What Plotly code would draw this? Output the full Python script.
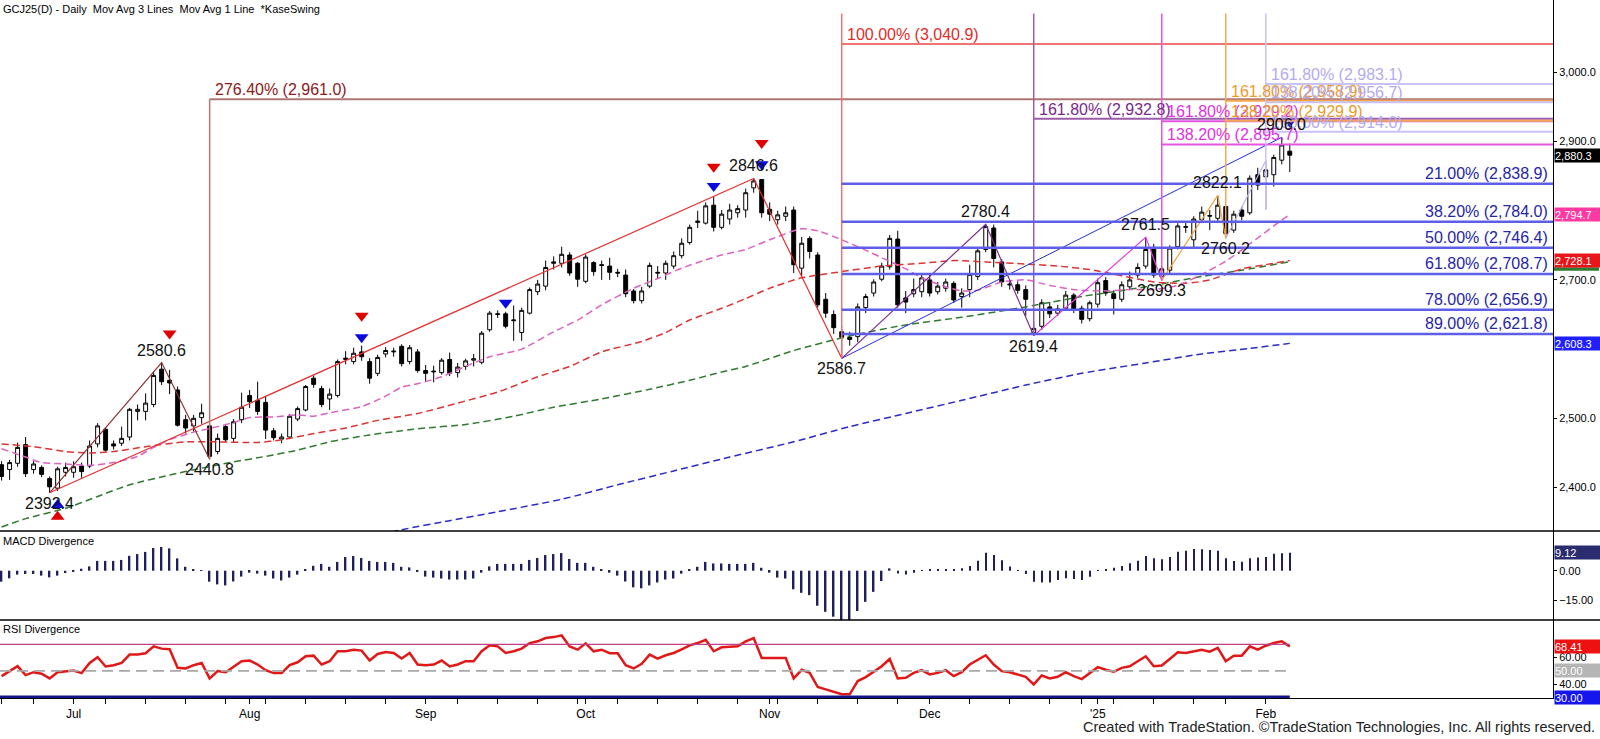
import pandas as pd
import plotly.graph_objects as go

# Sesiones diarias GCJ25 (sin feriados de CME)
holidays = ['2024-06-19', '2024-07-04', '2024-09-02', '2024-11-28',
            '2024-12-25', '2025-01-01', '2025-01-20']
dates = [d for d in pd.bdate_range('2024-06-17', '2025-02-06')
         if d.strftime('%Y-%m-%d') not in holidays]

opens = [2433, 2426, 2435, 2462, 2426, 2429, 2413, 2399, 2422, 2422,
         2431, 2431, 2463, 2484, 2463, 2464, 2473, 2510, 2510, 2520,
         2571, 2555, 2541, 2498, 2489, 2501, 2489, 2452, 2488, 2471,
         2498, 2533, 2526, 2523, 2482, 2470, 2473, 2499, 2512, 2558,
         2543, 2528, 2533, 2585, 2582, 2596, 2582, 2565, 2593, 2596,
         2604, 2582, 2596, 2569, 2567, 2566, 2585, 2566, 2575, 2584,
         2581, 2628, 2650, 2651, 2641, 2624, 2652, 2683, 2691, 2724,
         2724, 2736, 2724, 2698, 2725, 2722, 2720, 2711, 2707, 2684,
         2670, 2691, 2711, 2710, 2720, 2735, 2754, 2783, 2782, 2808,
         2776, 2788, 2797, 2801, 2833, 2845, 2802, 2787, 2792, 2801,
         2717, 2760, 2736, 2672, 2650, 2625, 2617, 2618, 2660, 2681,
         2701, 2719, 2759, 2674, 2680, 2683, 2700, 2683, 2688, 2695,
         2676, 2686, 2705, 2744, 2775, 2726, 2694, 2693, 2686, 2624,
         2633, 2661, 2652, 2659, 2678, 2659, 2644, 2665, 2699, 2680,
         2672, 2690, 2707, 2720, 2747, 2705, 2714, 2748, 2776, 2758,
         2787, 2792, 2789, 2806, 2772, 2801, 2797, 2852, 2849, 2852,
         2873, 2886]
highs = [2438, 2440, 2465, 2473, 2438, 2432, 2416, 2430, 2436, 2438,
         2436, 2468, 2493, 2487, 2468, 2488, 2515, 2520, 2536, 2568,
         2580.6, 2570, 2546, 2505, 2505, 2521, 2492, 2478, 2492, 2499,
         2537, 2541, 2553, 2531, 2486, 2478, 2506, 2517, 2548, 2562,
         2547, 2543, 2585, 2597, 2602, 2605, 2587, 2592, 2603, 2602,
         2607, 2606, 2600, 2577, 2576, 2587, 2595, 2580, 2586, 2593,
         2626, 2655, 2656, 2654, 2663, 2660, 2689, 2700, 2728, 2734,
         2748, 2740, 2726, 2737, 2727, 2728, 2732, 2716, 2715, 2687,
         2690, 2725, 2720, 2728, 2741, 2760, 2780, 2800, 2812, 2821,
         2801, 2810, 2808, 2832, 2846.6, 2845.5, 2812, 2800, 2806, 2806,
         2762, 2763, 2740, 2681, 2656, 2633, 2625, 2666, 2680, 2701,
         2725, 2765, 2771, 2684, 2702, 2710, 2710, 2697, 2702, 2698,
         2688, 2722, 2746, 2780.4, 2780, 2730, 2700, 2698, 2692, 2640,
         2672, 2668, 2664, 2684, 2681, 2663, 2670, 2702, 2704, 2685,
         2698, 2712, 2724, 2761.5, 2752, 2720, 2750, 2782, 2785, 2792,
         2806, 2801, 2822.1, 2808, 2800, 2806, 2851, 2862, 2872.1, 2881,
         2906.0, 2897]
lows = [2410, 2411, 2430, 2415, 2420, 2415, 2392.4, 2395, 2416, 2414,
        2414, 2428, 2458, 2452, 2455, 2460, 2468, 2497, 2497, 2516,
        2548, 2535, 2488, 2478, 2481, 2492, 2440.8, 2448, 2466, 2466,
        2493, 2515, 2505, 2470, 2468, 2464, 2470, 2496, 2510, 2544,
        2516, 2512, 2530, 2578, 2578, 2583, 2550, 2561, 2588, 2589,
        2575, 2578, 2566, 2553, 2552, 2563, 2561, 2559, 2570, 2575,
        2578, 2625, 2645, 2630, 2612, 2612, 2650, 2678, 2685, 2715,
        2718, 2706, 2690, 2695, 2706, 2700, 2700, 2704, 2675, 2666,
        2666, 2688, 2702, 2700, 2716, 2731, 2751, 2775, 2780, 2770,
        2773, 2780, 2790, 2790, 2826, 2790, 2785, 2780, 2785, 2710,
        2705, 2731, 2660, 2645, 2622, 2586.7, 2605, 2610, 2652, 2676,
        2698, 2715, 2660, 2652, 2675, 2675, 2676, 2679, 2683, 2667,
        2660, 2675, 2700, 2740, 2718, 2690, 2686, 2680, 2648, 2619.4,
        2628, 2645, 2648, 2655, 2652, 2637, 2640, 2660, 2677, 2650,
        2668, 2686, 2703, 2716, 2703, 2699.3, 2710, 2744, 2768, 2746,
        2782, 2772, 2785, 2760.2, 2768, 2786, 2794, 2830, 2802.1, 2835,
        2867, 2856]
closes = [2416, 2436, 2458, 2420, 2434, 2419, 2401, 2427, 2429, 2430,
          2423, 2460, 2489, 2454, 2460, 2471, 2513, 2513, 2522, 2562,
          2553, 2551, 2490, 2486, 2500, 2508, 2445, 2471, 2469, 2495,
          2516, 2524, 2510, 2483, 2472, 2473, 2503, 2514, 2546, 2549,
          2520, 2535, 2582, 2587, 2594, 2589, 2558, 2588, 2598, 2597,
          2579, 2602, 2569, 2565, 2568, 2584, 2565, 2574, 2583, 2586,
          2623, 2652, 2651, 2633, 2642, 2656, 2686, 2694, 2718, 2726,
          2737, 2710, 2701, 2733, 2712, 2721, 2711, 2710, 2680, 2670,
          2684, 2721, 2710, 2724, 2735, 2753, 2776, 2785, 2807, 2776,
          2795, 2801, 2803, 2826, 2843, 2797, 2795, 2794, 2797, 2722,
          2753, 2741, 2664, 2652, 2631, 2617, 2614, 2661, 2676, 2697,
          2720, 2760, 2664, 2668, 2686, 2703, 2681, 2691, 2697, 2671,
          2681, 2708, 2742, 2777, 2731, 2697, 2693, 2685, 2672, 2630,
          2667, 2651, 2658, 2678, 2657, 2643, 2667, 2696, 2681, 2673,
          2693, 2700, 2718, 2744, 2707, 2716, 2746, 2778, 2777, 2788,
          2798, 2793, 2808, 2767, 2795, 2792, 2847, 2837, 2859, 2877,
          2895, 2880.3]

ma18_idx = [0, 3, 5, 8, 11, 14, 17, 19, 21, 24, 27, 29, 31, 34, 37, 39, 41, 45, 48, 50,
            52, 55, 58, 61, 65, 69, 72, 75, 79, 82, 85, 88, 90, 93, 96, 100, 102, 105, 108, 110,
            113, 115, 118, 120, 122, 125, 128, 131, 134, 138, 141, 144, 147, 150, 153, 156, 159, 161]
ma18_val = [2456, 2444, 2436, 2434, 2432, 2436, 2445, 2458, 2469, 2480, 2488, 2494, 2501, 2502, 2505, 2503, 2508, 2517, 2532, 2545,
            2550, 2560, 2575, 2589, 2600, 2625, 2642, 2664, 2688, 2702, 2717, 2729, 2736, 2744, 2758, 2774, 2771, 2758, 2743, 2732,
            2716, 2703, 2690, 2684, 2685, 2697, 2700, 2692, 2686, 2684, 2686, 2686, 2692, 2708, 2727, 2752, 2778, 2794.7]
ma40_idx = [0, 4, 8, 11, 14, 18, 23, 27, 32, 35, 39, 43, 47, 52, 57, 62, 67, 71, 75, 80,
            83, 86, 90, 93, 96, 100, 105, 110, 115, 119, 123, 128, 132, 136, 140, 144, 148, 151, 155, 158, 161]
ma40_val = [2463, 2459, 2452, 2450, 2452, 2459, 2466, 2466, 2465, 2469, 2478, 2486, 2497, 2507, 2522, 2538, 2560, 2575, 2596, 2611,
            2624, 2642, 2659, 2673, 2688, 2703, 2712, 2720, 2724, 2728, 2726, 2723, 2720, 2715, 2706, 2697, 2695, 2700, 2716, 2722, 2728.1]
ma100_idx = [0, 3, 8, 12, 16, 21, 25, 29, 33, 37, 41, 46, 50, 53, 58, 64, 69, 75, 81, 86,
             90, 93, 99, 106, 113, 120, 128, 135, 143, 150, 155, 161]
ma100_val = [2343, 2355, 2370, 2387, 2404, 2418, 2428, 2437, 2445, 2454, 2466, 2476, 2482, 2486, 2491, 2503, 2516, 2528, 2542, 2555,
             2567, 2575, 2598, 2619, 2635, 2646, 2661, 2676, 2690, 2705, 2714, 2726.3]
ma200_idx = [46, 50, 56, 62, 70, 77, 84, 91, 99, 106, 113, 120, 128, 135, 143, 150, 156, 161]
ma200_val = [2328, 2339, 2352, 2365, 2383, 2404, 2424, 2444, 2466, 2488, 2507, 2526, 2548, 2565, 2580, 2593, 2601, 2608.3]

macd = [-5.6, -3.9, -2.0, -1.7, -1.7, -2.5, -3.4, -2.5, -1.2, -0.5,
        1.0, 2.2, 5.0, 5.0, 5.0, 5.5, 7.6, 8.5, 9.6, 11.6,
        12.1, 11.4, 6.3, 2.0, 0.5, 0.3, -5.6, -7.0, -7.5, -5.5,
        -3.0, -1.0, -1.5, -2.5, -4.0, -5.0, -3.5, -2.0, 0.8, 2.5,
        3.5, 2.0, 4.5, 7.0, 7.5, 6.5, 5.0, 4.5, 4.5, 4.0,
        2.0, 1.7, -0.5, -3.0, -3.5, -4.0, -4.5, -4.5, -4.5, -4.0,
        -1.0, 2.2, 3.5, 3.5, 3.5, 3.5, 5.5, 6.5, 8.0, 8.5,
        9.0, 6.0, 4.0, 4.0, 2.0, 0.5, -1.0, -2.5, -5.5, -8.5,
        -9.0, -7.5, -6.0, -4.5, -4.0, -1.5, 0.7, 2.0, 4.5, 3.7,
        3.7, 3.5, 3.5, 3.5, 4.0, 1.5, -1.0, -3.5, -4.0, -9.5,
        -11.3, -12.5, -17.9, -21.0, -23.5, -25.5, -25.5, -20.6, -15.9, -10.8,
        -5.3, 1.2, -1.4, -1.9, -1.0, 0.3, 0.7, 0.7, 0.9, 0.9,
        1.2, 2.4, 5.1, 9.2, 8.0, 5.3, 2.2, 0.3, -1.7, -5.6,
        -6.0, -6.0, -4.8, -3.9, -4.3, -4.8, -3.1, 0.3, 0.7, 1.5,
        2.4, 3.8, 5.1, 7.5, 6.3, 5.8, 7.0, 9.7, 10.2, 11.1,
        10.9, 10.6, 10.2, 6.3, 4.9, 4.6, 6.3, 6.7, 7.0, 8.7,
        8.9, 9.12]
rsi = [46.0, 49.8, 53.5, 46.8, 49.0, 47.8, 44.3, 49.0, 49.8, 50.3,
       48.3, 56.0, 60.3, 53.3, 54.3, 56.0, 62.3, 62.3, 63.3, 68.5,
       66.8, 66.3, 52.3, 51.8, 54.3, 56.0, 44.3, 49.8, 49.0, 53.5,
       57.3, 57.8, 54.8, 50.5, 48.3, 48.3, 54.3, 56.5, 61.0, 61.5,
       54.8, 57.3, 64.8, 64.8, 66.0, 65.3, 57.8, 62.8, 64.3, 63.5,
       59.3, 63.5, 54.8, 54.3, 54.8, 57.8, 53.3, 54.8, 57.3, 57.3,
       64.8, 69.3, 68.5, 63.5, 64.8, 66.8, 71.0, 72.3, 74.8, 75.5,
       76.8, 68.5, 66.0, 70.8, 64.8, 66.0, 63.3, 63.3, 54.3, 51.8,
       55.3, 62.3, 59.3, 61.8, 63.5, 66.3, 69.3, 71.0, 73.5, 64.8,
       67.8, 68.3, 68.5, 72.3, 74.8, 59.8, 59.8, 59.3, 59.8, 44.3,
       50.8, 48.5, 37.8, 36.0, 34.0, 32.3, 32.3, 42.3, 45.3, 49.3,
       53.5, 59.0, 44.3, 44.8, 48.5, 50.5, 47.3, 48.5, 50.5, 46.0,
       49.0, 54.8, 58.5, 61.8, 54.8, 49.8, 49.0, 47.3, 45.5, 39.8,
       46.5, 44.3, 45.5, 49.0, 46.0, 43.8, 48.0, 52.8, 50.8, 49.3,
       52.3, 53.5, 57.3, 61.0, 53.5, 54.0, 59.0, 64.0, 63.5, 64.8,
       66.0, 64.5, 67.3, 57.3, 61.5, 61.5, 68.5, 66.0, 69.0, 71.0,
       72.3, 68.41]

# Pivotes swing (indice de barra, precio, tipo)
piv_idx = [6, 20, 26, 94, 105, 123, 129, 143, 145, 152, 153, 160]
piv_val = [2392.4, 2580.6, 2440.8, 2846.6, 2586.7, 2780.4, 2619.4, 2761.5, 2699.3, 2822.1, 2760.2, 2906.0]
piv_hi = [False, True, False, True, False, True, False, True, False, True, False, True]

# Extensiones de Fibonacci: puntos A-B-C y niveles
ext_sets = [
    dict(name='brown', x=[6, 20, 26], y=[2392.4, 2580.6, 2440.8], pct=[276.40], lvl=[2961.0]),
    dict(name='red', x=[6, 94, 105], y=[2392.4, 2846.6, 2586.7], pct=[100.00], lvl=[3040.9]),
    dict(name='purple', x=[105, 123, 129], y=[2586.7, 2780.4, 2619.4], pct=[161.80], lvl=[2932.8]),
    dict(name='magenta', x=[129, 143, 145], y=[2619.4, 2761.5, 2699.3], pct=[161.80, 138.20], lvl=[2929.2, 2895.7]),
    dict(name='orange', x=[145, 152, 153], y=[2699.3, 2822.1, 2760.2], pct=[161.80, 138.20], lvl=[2958.9, 2929.9]),
    dict(name='lavender', x=[153, 158, 158], y=[2760.2, 2872.1, 2802.1], pct=[161.80, 138.20, 100.00], lvl=[2983.1, 2956.7, 2914.0]),
]
# Retrocesos del tramo 2586.7 -> 2906.0
ret_x = [105, 160]
ret_y = [2586.7, 2906.0]
ret_pct = [21.00, 38.20, 50.00, 61.80, 78.00, 89.00]
ret_lvl = [2838.9, 2784.0, 2746.4, 2708.7, 2656.9, 2621.8]

# Marcadores KaseSwing
red_dn_idx = [21, 45, 89, 95]
red_dn_val = [2622.6, 2648.3, 2863.6, 2898.0]
blue_dn_idx = [45, 63, 89, 95, 161]
blue_dn_val = [2617.1, 2667.0, 2835.7, 2867.0, 2928.6]
blue_up_idx = [7]
blue_up_val = [2374.7]
red_up_idx = [7]
red_up_val = [2357.8]

x = list(range(len(dates)))
x_lo, x_hi = -0.2, 193.9
ext_top = 3085

col = dict(brown=('#8b3434', '#b07676', '#8b2020'),
           red=('#e42f2f', '#f07474', '#e22a2a'),
           purple=('#7e2f90', '#9d5cab', '#7a2a8c'),
           magenta=('#e040e0', '#e455e4', '#e030e0'),
           orange=('#f0a040', '#f2a850', '#ee9a2a'),
           lavender=('#bcb4f0', '#cac2f4', '#b4aaf0'))
font = 'Liberation Sans, Arial, sans-serif'

fig = go.Figure()

# medias moviles
for ix, vals, c in [(ma200_idx, ma200_val, '#2a2ac8'), (ma100_idx, ma100_val, '#2f7a2f'),
                    (ma40_idx, ma40_val, '#dd3333'), (ma18_idx, ma18_val, '#e060c0')]:
    fig.add_trace(go.Scatter(x=ix, y=vals, mode='lines', showlegend=False, hoverinfo='skip',
                             line=dict(color=c, width=1.5, dash='7px,4px', shape='spline', smoothing=0.6)))

fig.add_trace(go.Candlestick(
    x=x, open=opens, high=highs, low=lows, close=closes, showlegend=False, whiskerwidth=0,
    increasing=dict(line=dict(color='black', width=1), fillcolor='white'),
    decreasing=dict(line=dict(color='black', width=1), fillcolor='black')))

shapes = []
annotations = []

# lineas de extension
for s in ext_sets:
    c_swing, c_lvl, c_txt = col[s['name']]
    fig.add_trace(go.Scatter(x=s['x'], y=s['y'], mode='lines', showlegend=False, hoverinfo='skip',
                             line=dict(color=c_swing, width=1.2)))
    top = max(s['lvl']) if s['name'] == 'brown' else ext_top
    shapes.append(dict(type='line', xref='x', yref='y', x0=s['x'][2], x1=s['x'][2],
                       y0=s['y'][2], y1=top, line=dict(color=c_lvl, width=1.5)))
    for p, v in zip(s['pct'], s['lvl']):
        shapes.append(dict(type='line', xref='x', yref='y', x0=s['x'][2], x1=x_hi,
                           y0=v, y1=v, line=dict(color=c_lvl, width=2)))
        annotations.append(dict(x=s['x'][2], y=v, xref='x', yref='y', xanchor='left', yanchor='bottom',
                                xshift=3, yshift=-1, showarrow=False, text=f'{p:.2f}% ({v:,.1f})',
                                font=dict(family=font, size=16, color=c_txt)))

# retrocesos
fig.add_trace(go.Scatter(x=ret_x, y=ret_y, mode='lines', showlegend=False, hoverinfo='skip',
                         line=dict(color='#2a2ae0', width=1)))
for p, v in zip(ret_pct, ret_lvl):
    shapes.append(dict(type='line', xref='x', yref='y', x0=ret_x[0], x1=x_hi, y0=v, y1=v,
                       line=dict(color='#5e5ee8', width=2.5)))
    annotations.append(dict(x=x_hi, y=v, xref='x', yref='y', xanchor='right', yanchor='bottom',
                            xshift=-3, yshift=0, showarrow=False, text=f'{p:.2f}% ({v:,.1f})',
                            font=dict(family=font, size=16, color='#2525a8')))

# marcadores
for ix, vals, sym, c in [(red_dn_idx, red_dn_val, 'triangle-down', '#e00000'),
                         (blue_dn_idx, blue_dn_val, 'triangle-down', '#0a0ae0'),
                         (blue_up_idx, blue_up_val, 'triangle-up', '#0a0ae0'),
                         (red_up_idx, red_up_val, 'triangle-up', '#e00000')]:
    fig.add_trace(go.Scatter(x=ix, y=vals, mode='markers', showlegend=False, hoverinfo='skip',
                             marker=dict(symbol=sym, size=12, color=c, line=dict(width=0))))

# etiquetas de pivotes
for i, v, hi in zip(piv_idx, piv_val, piv_hi):
    annotations.append(dict(x=i, y=v, xref='x', yref='y', showarrow=False, text=f'{v:.1f}',
                            yanchor='bottom' if hi else 'top', yshift=2 if hi else 0,
                            font=dict(family=font, size=16, color='#111111')))

# MACD
fig.add_trace(go.Bar(x=x, y=macd, width=0.18, yaxis='y2', showlegend=False,
                     marker=dict(color='#1f1f5c', line=dict(width=0))))

# RSI
for lvl, c, w, d in [(70, '#c0408a', 1.2, 'solid'), (50, '#a8a8a8', 1.6, '11px,6px'), (30, '#14148c', 3.5, 'solid')]:
    shapes.append(dict(type='line', xref='x', yref='y3', x0=x_lo, x1=x[-1], y0=lvl, y1=lvl,
                       line=dict(color=c, width=w, dash=d)))
fig.add_trace(go.Scatter(x=x, y=rsi, yaxis='y3', mode='lines', showlegend=False,
                         line=dict(color='#e01818', width=2.5)))

# separadores de paneles
d_price, d_macd = 0.2393, 0.1117
for yy in [d_price, d_macd]:
    shapes.append(dict(type='line', xref='paper', yref='paper', x0=0, x1=1.031, y0=yy, y1=yy,
                       line=dict(color='black', width=1.5)))

# franja verde de la media de 100 bajo la etiqueta roja
shapes.append(dict(type='rect', xref='paper', yref='y', x0=1.0006, x1=1.0296,
                   y0=ma100_val[-1] - 13, y1=ma100_val[-1] - 8, line=dict(width=0),
                   fillcolor='#2e7d32'))

# etiquetas del eje derecho
tags = [('y', closes[-1], f'{closes[-1]:,.1f}', '#000000'),
        ('y', ma18_val[-1], f'{ma18_val[-1]:,.1f}', '#ff3aa0'),
        ('y', ma40_val[-1], f'{ma40_val[-1]:,.1f}', '#e8161b'),
        ('y', ma200_val[-1], f'{ma200_val[-1]:,.1f}', '#1f1fff'),
        ('y2', macd[-1], f'{macd[-1]:.2f}', '#2b2b70'),
        ('y3', rsi[-1], f'{rsi[-1]:.2f}', '#ee1111'),
        ('y3', 50, '50.00', '#b5b5b5'),
        ('y3', 30, '30.00', '#1515ee')]
for yr, v, t, c in tags:
    annotations.append(dict(x=1, y=v, xref='paper', yref=yr, xanchor='left', yanchor='middle',
                            xshift=1, showarrow=False, text=t, width=45, height=13,
                            align='left', bgcolor=c, borderpad=0,
                            font=dict(family=font, size=11, color='white')))

# textos
annotations += [
    dict(x=0, y=1, xref='paper', yref='paper', xanchor='left', yanchor='top', xshift=1, yshift=-1,
         showarrow=False, text='GCJ25(D) - Daily  Mov Avg 3 Lines  Mov Avg 1 Line  *KaseSwing',
         font=dict(family=font, size=11, color='black')),
    dict(x=0, y=0.2254, xref='paper', yref='paper', xanchor='left', yanchor='middle', xshift=1,
         showarrow=False, text='MACD Divergence', font=dict(family=font, size=11, color='black')),
    dict(x=0, y=0.0989, xref='paper', yref='paper', xanchor='left', yanchor='middle', xshift=1,
         showarrow=False, text='RSI Divergence', font=dict(family=font, size=11, color='black')),
    dict(x=1.0283, y=-0.0415, xref='paper', yref='paper', xanchor='right', yanchor='middle',
         showarrow=False, text='Created with TradeStation. ©TradeStation Technologies, Inc. All rights reserved.',
         font=dict(family=font, size=14.5, color='#222222')),
]

# ticks del eje x: inicio de mes y de semana
month_idx, month_lbl, week_idx = [], [], []
for i, d in enumerate(dates):
    if i > 0 and d.month != dates[i - 1].month:
        month_idx.append(i)
        month_lbl.append("'25" if d.month == 1 else d.strftime('%b'))
    if i == 0 or d.weekday() < dates[i - 1].weekday():
        week_idx.append(i)

axis_common = dict(showgrid=False, zeroline=False, showline=True, linecolor='black', linewidth=1,
                   ticks='outside', ticklen=3, tickcolor='black', side='right', anchor='x',
                   tickfont=dict(family=font, size=11, color='black'), automargin=False)

fig.update_layout(
    width=1600, height=739,
    margin=dict(l=0, r=47, t=0, b=41),
    paper_bgcolor='white', plot_bgcolor='white',
    shapes=shapes, annotations=annotations,
    hovermode=False, showlegend=False,
    xaxis=dict(domain=[0, 1], range=[x_lo, x_hi], anchor='y3', showgrid=False, zeroline=False,
               showline=True, linecolor='black', linewidth=1, tickvals=month_idx, ticktext=month_lbl,
               ticks='outside', ticklen=5, tickcolor='black', automargin=False,
               minor=dict(tickvals=week_idx, ticks='outside', ticklen=5, tickcolor='black'),
               tickfont=dict(family=font, size=12, color='black'), rangeslider=dict(visible=False)),
    yaxis=dict(domain=[d_price, 1], range=[2337.2, 3104.5], tickvals=[2400, 2500, 2700, 2900, 3000],
               tickformat=',.1f', **axis_common),
    yaxis2=dict(domain=[d_macd, d_price], range=[-25.2, 20.3], tickvals=[-15, 0], tickformat='.2f',
                **axis_common),
    yaxis3=dict(domain=[0, d_macd], range=[29.5, 88.4], tickvals=[40, 60], tickformat='.2f',
                **axis_common),
)

fig.write_html('out.html', config={'displayModeBar': False},
               post_script="document.body.style.margin='0px';")
